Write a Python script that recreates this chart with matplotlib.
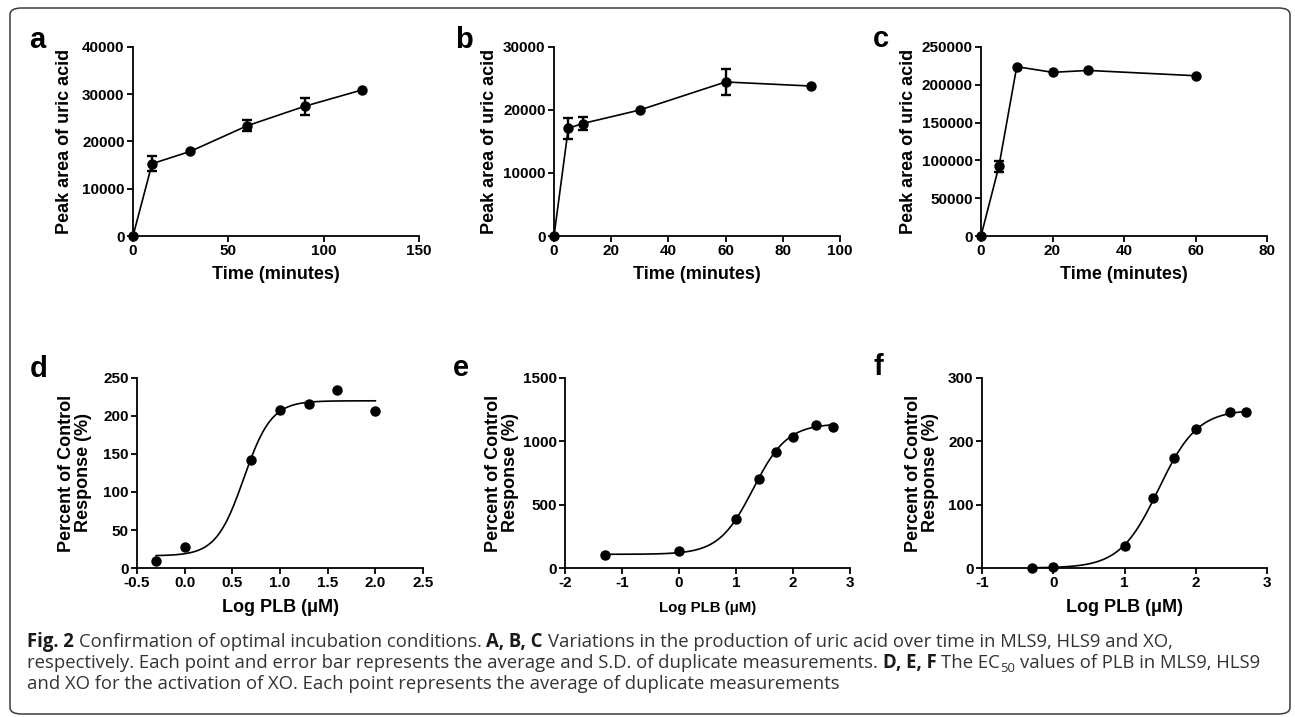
import numpy as np
import matplotlib
matplotlib.use("Agg")
import matplotlib.pyplot as plt
from matplotlib.patches import FancyBboxPatch

# --- data ------------------------------------------------------------------
# a: MLS9 time course
a_time = [0, 10, 30, 60, 90, 120]
a_area = [0, 15300, 17900, 23350, 27450, 30900]
a_sd = [0, 1600, 0, 1150, 1750, 0]

# b: HLS9 time course
b_time = [0, 5, 10, 30, 60, 90]
b_area = [0, 17100, 17850, 20000, 24450, 23800]
b_sd = [0, 1650, 1050, 0, 2050, 0]

# c: XO time course
c_time = [0, 5, 10, 20, 30, 60]
c_area = [0, 92000, 224000, 216500, 219000, 212000]
c_sd = [0, 7500, 0, 0, 0, 0]

# d-f: concentration response (log uM) and 4PL fit (bottom, top, logEC50, hill)
d_logc = [-0.3, 0.0, 0.7, 1.0, 1.3, 1.6, 2.0]
d_resp = [9.7, 27, 142, 208, 216, 234, 206]
d_fit = [16, 220, 0.62, 3.0]

e_logc = [-1.3, 0.0, 1.0, 1.4, 1.7, 2.0, 2.4, 2.7]
e_resp = [100, 135, 383, 702, 919, 1038, 1128, 1117]
e_fit = [108, 1140, 1.3, 1.45]

f_logc = [-0.3, 0.0, 1.0, 1.4, 1.7, 2.0, 2.48, 2.7]
f_resp = [0, 1, 35, 110, 174, 220, 246, 246]
f_fit = [0, 250, 1.48, 1.6]

W, H = 1295, 717
FONT = ["Liberation Sans", "Arial", "DejaVu Sans"]
CAP_FONT = ["Open Sans", "DejaVu Sans"]

plt.rcParams["font.family"] = FONT
plt.rcParams["font.weight"] = "bold"
plt.rcParams["axes.unicode_minus"] = False


def hill(x, bottom, top, logec50, slope):
    return bottom + (top - bottom) / (1 + 10 ** ((logec50 - x) * slope))


def px_axes(fig, left, top, right, bottom):
    return fig.add_axes([left / W, 1 - bottom / H, (right - left) / W, (bottom - top) / H])


def style(ax):
    for s in ("top", "right"):
        ax.spines[s].set_visible(False)
    for s in ("left", "bottom"):
        ax.spines[s].set_linewidth(1.3)
    ax.tick_params(direction="out", length=4.5, width=1.3, pad=1.5, labelsize=11)
    for lab in ax.get_xticklabels() + ax.get_yticklabels():
        lab.set_fontweight("bold")


def place_labels(ax, xlab_y, ylab_x):
    ax.xaxis.set_label_coords(0.5, xlab_y)
    ax.yaxis.set_label_coords(ylab_x, 0.5)
    ax.xaxis.label.set_verticalalignment("center")
    ax.yaxis.label.set_verticalalignment("center")


def time_panel(ax, t, y, sd, xmax, xstep, ymax, ystep, ylab_x):
    ax.plot(t, y, "-o", color="black", lw=1.2, ms=6.5, clip_on=False, zorder=3)
    idx = [i for i, s in enumerate(sd) if s > 0]
    ax.errorbar([t[i] for i in idx], [y[i] for i in idx], yerr=[sd[i] for i in idx],
                fmt="none", ecolor="black", elinewidth=1.7, capsize=3.3, capthick=1.7)
    ax.set_xlim(0, xmax)
    ax.set_ylim(0, ymax)
    ax.set_xticks(np.arange(0, xmax + 1, xstep))
    ax.set_yticks(np.arange(0, ymax + 1, ystep))
    style(ax)
    ax.set_xlabel("Time (minutes)", fontsize=13, fontweight="bold")
    ax.set_ylabel("Peak area of uric acid", fontsize=13, fontweight="bold")
    place_labels(ax, -0.206, ylab_x)


def dose_panel(ax, x, y, fit, xlim, xticks, ymax, ystep, ylab_x, xlab_size=13):
    xs = np.linspace(x[0], x[-1], 300)
    ax.plot(xs, hill(xs, *fit), color="black", lw=1.2)
    ax.plot(x, y, "o", color="black", ms=6.5, clip_on=False, zorder=3)
    ax.set_xlim(*xlim)
    ax.set_ylim(0, ymax)
    ax.set_xticks(xticks)
    ax.set_yticks(np.arange(0, ymax + 1, ystep))
    style(ax)
    ax.set_xlabel("Log PLB (\u03bcM)", fontsize=xlab_size, fontweight="bold")
    ax.set_ylabel("Percent of Control\nResponse (%)", fontsize=13, fontweight="bold",
                  linespacing=1.0)
    place_labels(ax, -0.21, ylab_x)


fig = plt.figure(figsize=(W / 100, H / 100), dpi=100)

ax_a = px_axes(fig, 133, 47, 419, 236)
time_panel(ax_a, a_time, a_area, a_sd, 150, 50, 40000, 10000, -0.238)

ax_b = px_axes(fig, 554, 47, 840, 236)
time_panel(ax_b, b_time, b_area, b_sd, 100, 20, 30000, 10000, -0.224)

ax_c = px_axes(fig, 981, 47, 1267, 236)
time_panel(ax_c, c_time, c_area, c_sd, 80, 20, 250000, 50000, -0.255)

ax_d = px_axes(fig, 137, 378, 423, 568)
dose_panel(ax_d, d_logc, d_resp, d_fit, (-0.5, 2.5), [-0.5, 0, 0.5, 1.0, 1.5, 2.0, 2.5],
           250, 50, -0.218)
ax_d.set_xticklabels(["-0.5", "0.0", "0.5", "1.0", "1.5", "2.0", "2.5"], fontweight="bold")

ax_e = px_axes(fig, 565, 378, 850, 568)
dose_panel(ax_e, e_logc, e_resp, e_fit, (-2, 3), [-2, -1, 0, 1, 2, 3], 1500, 500, -0.221,
           xlab_size=10.8)

ax_f = px_axes(fig, 982, 378, 1267, 568)
dose_panel(ax_f, f_logc, f_resp, f_fit, (-1, 3), [-1, 0, 1, 2, 3], 300, 100, -0.21)

# panel letters
for letter, x, y in [("a", 29, 48), ("b", 455, 48), ("c", 873, 47),
                     ("d", 30, 377), ("e", 453, 376), ("f", 873, 375)]:
    fig.text(x / W, 1 - y / H, letter, fontsize=21, fontweight="bold",
             ha="left", va="baseline")

# rounded frame
frame = FancyBboxPatch((10 / W, 1 - 714 / H), 1280 / W, 706 / H,
                       boxstyle="round,pad=0,rounding_size=0.009",
                       transform=fig.transFigure, fill=False,
                       edgecolor="#3c3c3c", linewidth=1.1)
fig.add_artist(frame)

# caption, drawn run by run so bold pieces and the subscript sit inline
fig.canvas.draw()
renderer = fig.canvas.get_renderer()


def text_width(s, size, weight):
    t = fig.text(0, 0, s, fontsize=size, fontweight=weight, family=CAP_FONT)
    w = t.get_window_extent(renderer).width
    t.remove()
    return w


caption = [
    [("Fig. 2", "bold", False, False),
     ("Confirmation of optimal incubation conditions.", "normal", False, True),
     ("A, B, C", "bold", False, True),
     ("Variations in the production of uric acid over time in MLS9, HLS9 and XO,", "normal", False, True)],
    [("respectively. Each point and error bar represents the average and S.D. of duplicate measurements.", "normal", False, False),
     ("D, E, F", "bold", False, True),
     ("The EC", "normal", False, True),
     ("50", "normal", True, False),
     ("values of PLB in MLS9, HLS9", "normal", False, True)],
    [("and XO for the activation of XO. Each point represents the average of duplicate measurements", "normal", False, False)],
]


def line_width(runs, size):
    sp = text_width("a a", size, "normal") - text_width("aa", size, "normal")
    w = 0
    for s, wt, sub, gap in runs:
        if gap:
            w += sp
        w += text_width(s, size * (0.7 if sub else 1), wt)
    return w


cap_size = 12.0 * (1231 / line_width(caption[1], 12.0))
space = text_width("a a", cap_size, "normal") - text_width("aa", cap_size, "normal")

for runs, base in zip(caption, [647, 668, 689]):
    x = 27
    for s, wt, sub, gap in runs:
        if gap:
            x += space
        size = cap_size * (0.7 if sub else 1)
        y = base + (4 if sub else 0)
        col = "#1a1a1a" if wt == "bold" else "#333333"
        t = fig.text(x / W, 1 - y / H, s, fontsize=size, fontweight=wt, family=CAP_FONT,
                     color=col, ha="left", va="baseline")
        x += t.get_window_extent(renderer).width

fig.savefig("out.png", dpi=100)
